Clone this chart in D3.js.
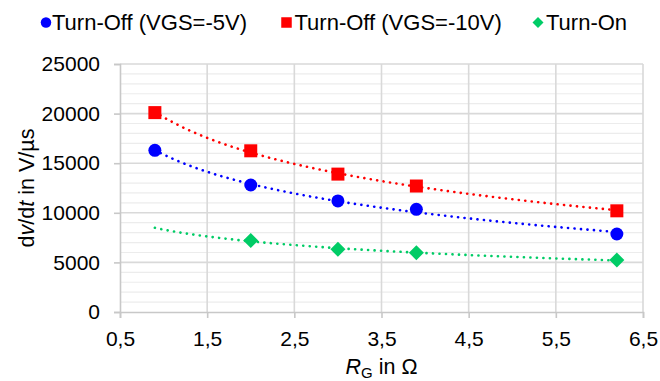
<!DOCTYPE html>
<html>
<head>
<meta charset="utf-8">
<script src="https://cdn.jsdelivr.net/npm/d3@7"></script>
<style>
  body { margin: 0; background: #fff; }
  text { font-family: "Liberation Sans", Arial, sans-serif; fill: #000; }
</style>
</head>
<body>
<div id="vis"></div>
<script>
// ----------------
// 1. Data
// ----------------
const rgOff = [0.9, 2.0, 3.0, 3.9, 6.2];
const offVgs5 = [16300, 12800, 11200, 10350, 7860];
const offVgs10 = [20100, 16250, 13900, 12700, 10200];
const rgOn = [2.0, 3.0, 3.9, 6.2];
const turnOn = [7200, 6320, 5980, 5240];
const xTicks = [0.5, 1.5, 2.5, 3.5, 4.5, 5.5, 6.5];
const yTicks = [0, 5000, 10000, 15000, 20000, 25000];
const trendRange = [0.9, 6.2];

const series = [
    {name: "Turn-Off (VGS=-5V)", xs: rgOff, ys: offVgs5, color: "#0000ff", shape: "circle"},
    {name: "Turn-Off (VGS=-10V)", xs: rgOff, ys: offVgs10, color: "#ff0000", shape: "square"},
    {name: "Turn-On", xs: rgOn, ys: turnOn, color: "#00cc66", shape: "diamond"}
];

// logarithmic trendline (y = a + b ln x), like the spreadsheet one
function logFit(xs, ys) {
    const lx = xs.map(Math.log);
    const mx = d3.mean(lx), my = d3.mean(ys);
    const b = d3.sum(lx, (v, i) => (v - mx) * (ys[i] - my)) / d3.sum(lx, v => (v - mx) ** 2);
    const a = my - b * mx;
    return x => a + b * Math.log(x);
}

// ----------------
// 2. Dimensions
// ----------------
const dimensions = {
    width: 660,
    height: 381,
    margin: {top: 64, right: 17, bottom: 69, left: 120}
};
dimensions.boundedWidth = dimensions.width - dimensions.margin.left - dimensions.margin.right;
dimensions.boundedHeight = dimensions.height - dimensions.margin.top - dimensions.margin.bottom;

const svg = d3.select("#vis")
    .append("svg")
    .attr("width", dimensions.width)
    .attr("height", dimensions.height);

const g = svg.append("g")
    .attr("transform", `translate(${dimensions.margin.left}, ${dimensions.margin.top})`);

// ----------------
// 3. Scales
// ----------------
const xScale = d3.scaleLinear().domain([0.5, 6.5]).range([0, dimensions.boundedWidth]);
const yScale = d3.scaleLinear().domain([0, 25000]).range([dimensions.boundedHeight, 0]);

// ----------------
// 4. Grid + axes
// ----------------
g.append("g").selectAll("line")
    .data(d3.range(1000, 25001, 1000).filter(v => v % 5000 !== 0))
    .join("line")
    .attr("x1", 0).attr("x2", dimensions.boundedWidth)
    .attr("y1", d => yScale(d)).attr("y2", d => yScale(d))
    .attr("stroke", "#ececec").attr("stroke-width", 1.2);

g.append("g").selectAll("line")
    .data(yTicks.slice(1))
    .join("line")
    .attr("x1", 0).attr("x2", dimensions.boundedWidth)
    .attr("y1", d => yScale(d)).attr("y2", d => yScale(d))
    .attr("stroke", "#d9d9d9").attr("stroke-width", 1.6);

g.append("g").selectAll("line")
    .data(xTicks.slice(1))
    .join("line")
    .attr("x1", d => xScale(d)).attr("x2", d => xScale(d))
    .attr("y1", 0).attr("y2", dimensions.boundedHeight)
    .attr("stroke", "#d9d9d9").attr("stroke-width", 1.6);

const yAxis = g.append("g")
    .call(d3.axisLeft(yScale).tickValues(yTicks).tickSize(6).tickPadding(14).tickFormat(d3.format("d")));
const xAxis = g.append("g")
    .attr("transform", `translate(0, ${dimensions.boundedHeight})`)
    .call(d3.axisBottom(xScale).tickValues(xTicks).tickSize(6).tickPadding(13).tickFormat(d => String(d).replace(".", ",")));

[yAxis, xAxis].forEach(ax => {
    ax.select(".domain").attr("stroke", "#c8c8c8").attr("stroke-width", 1.6);
    ax.selectAll(".tick line").attr("stroke", "#c8c8c8").attr("stroke-width", 1.6);
    ax.selectAll("text").attr("font-size", 21).attr("font-family", "Liberation Sans, Arial, sans-serif").attr("fill", "#000");
});

// axis titles
const yTitle = svg.append("text")
    .attr("transform", `translate(34, ${dimensions.margin.top + dimensions.boundedHeight / 2}) rotate(-90)`)
    .attr("text-anchor", "middle")
    .attr("font-size", 21.5);
yTitle.append("tspan").text("d");
yTitle.append("tspan").attr("font-style", "italic").text("v");
yTitle.append("tspan").text("/d");
yTitle.append("tspan").attr("font-style", "italic").text("t");
yTitle.append("tspan").text(" in V/µs");

const xTitle = svg.append("text")
    .attr("x", dimensions.margin.left + xScale(3.5))
    .attr("y", 374)
    .attr("text-anchor", "middle")
    .attr("font-size", 21.5);
xTitle.append("tspan").attr("font-style", "italic").text("R");
xTitle.append("tspan").attr("font-size", 15).attr("dy", 4).text("G");
xTitle.append("tspan").attr("dy", -4).text(" in Ω");

// ----------------
// 5. Trendlines + markers
// ----------------
const line = d3.line().x(d => xScale(d[0])).y(d => yScale(d[1]));

function marker(sel, shape, color, size) {
    if (shape === "circle") {
        sel.append("circle").attr("r", size / 2).attr("fill", color);
    } else if (shape === "square") {
        sel.append("rect").attr("x", -size / 2).attr("y", -size / 2)
            .attr("width", size).attr("height", size).attr("fill", color);
    } else {
        const h = size / 2 + 1;
        sel.append("path").attr("d", `M0,${-h}L${h},0L0,${h}L${-h},0Z`).attr("fill", color);
    }
}

series.forEach(s => {
    const f = logFit(s.xs, s.ys);
    const pts = d3.range(0, 101).map(i => {
        const x = trendRange[0] + (trendRange[1] - trendRange[0]) * i / 100;
        return [x, f(x)];
    });
    g.append("path")
        .attr("d", line(pts))
        .attr("fill", "none")
        .attr("stroke", s.color)
        .attr("stroke-width", 2.6)
        .attr("stroke-linecap", "round")
        .attr("stroke-dasharray", "0.1 6.4");
});

series.forEach(s => {
    s.xs.forEach((x, i) => {
        const m = g.append("g").attr("transform", `translate(${xScale(x)}, ${yScale(s.ys[i])})`);
        marker(m, s.shape, s.color, 13);
    });
});

// ----------------
// 6. Legend
// ----------------
const legendX = [46, 286.5, 538];
series.forEach((s, i) => {
    const lg = svg.append("g").attr("transform", `translate(${legendX[i]}, 22.5)`);
    marker(lg, s.shape, s.color, s.shape === "diamond" ? 9 : 10.5);
    lg.append("text")
        .attr("x", s.shape === "circle" ? 6 : 8)
        .attr("y", 7.5)
        .attr("font-size", 22)
        .text(s.name);
});
</script>
</body>
</html>
